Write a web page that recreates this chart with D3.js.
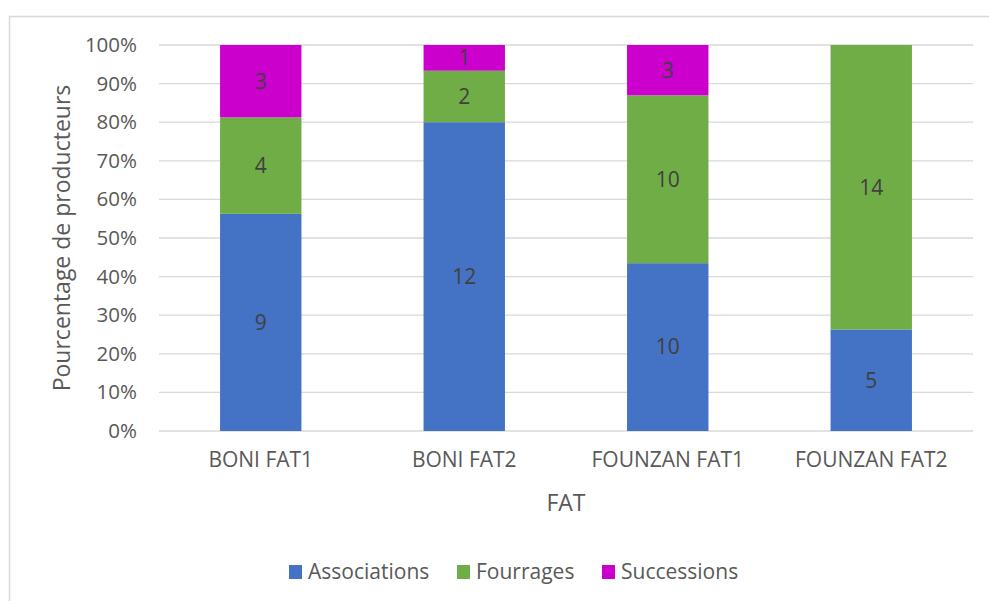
<!DOCTYPE html>
<html>
<head>
<meta charset="utf-8">
<script src="https://cdn.jsdelivr.net/npm/d3@7"></script>
<style>
  body { margin: 0; background: #fff; }
  svg text { font-family: "Open Sans", sans-serif; }
</style>
</head>
<body>
<svg id="canvas"></svg>
<script>
let categories = ['BONI FAT1', 'BONI FAT2', 'FOUNZAN FAT1', 'FOUNZAN FAT2']
let series = ['Associations', 'Fourrages', 'Successions']
let associations = [9, 12, 10, 5]
let fourrages = [4, 2, 10, 14]
let successions = [3, 1, 3, 0]
let yTicks = [0, 0.1, 0.2, 0.3, 0.4, 0.5, 0.6, 0.7, 0.8, 0.9, 1]
let colors = ['#4472C4', '#70AD47', '#CC00CC']

let width = 989
let height = 601
let plotLeft = 159, plotRight = 973, plotTop = 45, plotBottom = 431

let svg = d3.select('#canvas').attr('width', width).attr('height', height)

// chart frame
svg.append('rect')
   .attr('x', 9.5).attr('y', 16.5)
   .attr('width', 1000).attr('height', 700)
   .attr('fill', 'none').attr('stroke', '#D9D9D9').attr('stroke-width', 1.5)

let rows = categories.map((c, i) => {
  let total = associations[i] + fourrages[i] + successions[i]
  return { cat: c, Associations: associations[i], Fourrages: fourrages[i], Successions: successions[i], total: total }
})

let stack = d3.stack().keys(series)
  .value((d, k) => d[k] / d.total)
let layers = stack(rows)

let x = d3.scaleBand().domain(categories).range([plotLeft, plotRight]).paddingInner(0.6).paddingOuter(0.3)
let y = d3.scaleLinear().domain([0, 1]).range([plotBottom, plotTop])

// gridlines
svg.append('g')
   .selectAll('line')
   .data(yTicks)
   .join('line')
   .attr('x1', plotLeft).attr('x2', plotRight)
   .attr('y1', d => y(d)).attr('y2', d => y(d))
   .attr('stroke', '#D9D9D9').attr('stroke-width', 1.3)

// y axis labels
let yAxis = svg.append('g')
   .attr('transform', `translate(${plotLeft},0)`)
   .call(d3.axisLeft(y).tickValues(yTicks).tickSize(0).tickPadding(22).tickFormat(d3.format('.0%')))
yAxis.select('.domain').remove()
yAxis.selectAll('text').attr('font-size', 20.5).attr('fill', '#595959').attr('font-family', '"Open Sans", sans-serif')

// x axis labels
let xAxis = svg.append('g')
   .attr('transform', `translate(0,${plotBottom})`)
   .call(d3.axisBottom(x).tickSize(0).tickPadding(21))
xAxis.select('.domain').remove()
xAxis.selectAll('text').attr('font-size', 21).attr('fill', '#595959').attr('font-family', '"Open Sans", sans-serif')

// bars
let groups = svg.append('g')
   .selectAll('g')
   .data(layers)
   .join('g')
   .attr('fill', (d, i) => colors[i])

groups.selectAll('rect')
   .data(d => d.filter(s => s[1] - s[0] > 0))
   .join('rect')
   .attr('x', d => x(d.data.cat))
   .attr('width', x.bandwidth())
   .attr('y', d => y(d[1]))
   .attr('height', d => y(d[0]) - y(d[1]))

// data labels
layers.forEach((layer, li) => {
  svg.append('g')
     .selectAll('text')
     .data(layer.filter(s => s[1] - s[0] > 0))
     .join('text')
     .attr('x', d => x(d.data.cat) + x.bandwidth() / 2)
     .attr('y', d => (y(d[0]) + y(d[1])) / 2)
     .attr('dy', '0.35em')
     .attr('text-anchor', 'middle')
     .attr('font-size', 21)
     .attr('fill', '#404040')
     .text(d => d.data[series[li]])
})

// axis titles
svg.append('text')
   .attr('x', (plotLeft + plotRight) / 2).attr('y', 503)
   .attr('dy', '0.35em')
   .attr('text-anchor', 'middle')
   .attr('font-size', 23).attr('fill', '#595959')
   .text('FAT')

svg.append('text')
   .attr('transform', `translate(62,${(plotTop + plotBottom) / 2}) rotate(-90)`)
   .attr('dy', '0.35em')
   .attr('text-anchor', 'middle')
   .attr('font-size', 23).attr('fill', '#595959')
   .text('Pourcentage de producteurs')

// legend
let legendX = [289, 457, 602]
let legend = svg.append('g')
   .selectAll('g')
   .data(series)
   .join('g')
   .attr('transform', (d, i) => `translate(${legendX[i]},565)`)
legend.append('rect').attr('width', 13).attr('height', 14).attr('fill', (d, i) => colors[i])
legend.append('text')
   .attr('x', 19).attr('y', 7).attr('dy', '0.35em')
   .attr('font-size', 21).attr('fill', '#595959')
   .text(d => d)
</script>
</body>
</html>
